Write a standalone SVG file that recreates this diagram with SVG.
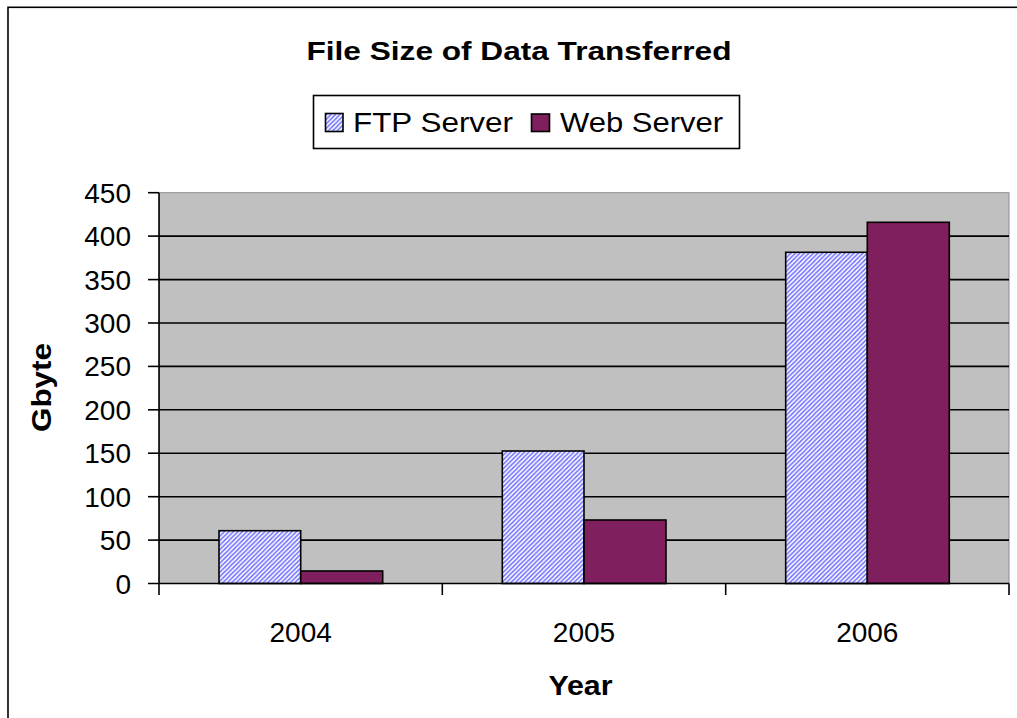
<svg xmlns="http://www.w3.org/2000/svg" width="1017" height="718" viewBox="0 0 1017 718">
<defs>
<pattern id="hatch" patternUnits="userSpaceOnUse" width="4.5" height="4.5">
<rect width="4.5" height="4.5" fill="#ffffff"/>
<path d="M0,4.5 L4.5,0 M-1,1 L1,-1 M3.5,5.5 L5.5,3.5" stroke="#6e6eff" stroke-width="1.5"/>
</pattern>
<style>
.t{font-family:"Liberation Sans",Arial,sans-serif;fill:#000}
.b{font-weight:bold}
.num{font-size:28px;text-anchor:end}
.cat{font-size:28px;text-anchor:middle}
.grid{stroke:#000;stroke-width:1.6}
.tick{stroke:#000;stroke-width:1.6}
.ftp{fill:url(#hatch);stroke:#000;stroke-width:1.6}
.web{fill:#7f1f5e;stroke:#000;stroke-width:1.6}
</style>
</defs>
<rect x="0" y="0" width="1017" height="718" fill="#fff"/>
<rect id="frame" x="8" y="7.3" width="1030" height="730" fill="#fff" stroke="#000" stroke-width="1.6"/>
<g id="title"><text class="t b" x="519" y="59.5" font-size="26" text-anchor="middle" textLength="425" lengthAdjust="spacingAndGlyphs">File Size of Data Transferred</text></g>
<g id="legend">
<rect x="313.5" y="95.5" width="426" height="53" fill="#fff" stroke="#000" stroke-width="1.6"/>
<rect class="ftp" x="325.5" y="113.5" width="17.5" height="18"/>
<text class="t" x="353" y="132.3" font-size="28" textLength="160" lengthAdjust="spacingAndGlyphs">FTP Server</text>
<rect class="web" x="531.5" y="114" width="18" height="17.5"/>
<text class="t" x="560" y="132.3" font-size="28" textLength="163" lengthAdjust="spacingAndGlyphs">Web Server</text>
</g>
<g id="plot">
<rect x="159.5" y="192.7" width="849.5" height="390.8" fill="#c0c0c0" stroke="#8c8c8c" stroke-width="1"/>
<g id="gridlines">
<line class="grid" x1="159" y1="540.1" x2="1009" y2="540.1"/>
<line class="grid" x1="159" y1="496.7" x2="1009" y2="496.7"/>
<line class="grid" x1="159" y1="453.2" x2="1009" y2="453.2"/>
<line class="grid" x1="159" y1="409.8" x2="1009" y2="409.8"/>
<line class="grid" x1="159" y1="366.4" x2="1009" y2="366.4"/>
<line class="grid" x1="159" y1="323.0" x2="1009" y2="323.0"/>
<line class="grid" x1="159" y1="279.6" x2="1009" y2="279.6"/>
<line class="grid" x1="159" y1="236.1" x2="1009" y2="236.1"/>
</g>
</g>
<g id="bars">
<g id="bar-2004-ftp"><rect class="ftp" x="219" y="530.7" width="81.7" height="52.8"/></g>
<g id="bar-2004-web"><rect class="web" x="300.7" y="571" width="82" height="12.5"/></g>
<g id="bar-2005-ftp"><rect class="ftp" x="502.3" y="451" width="81.7" height="132.5"/></g>
<g id="bar-2005-web"><rect class="web" x="584" y="520" width="82" height="63.5"/></g>
<g id="bar-2006-ftp"><rect class="ftp" x="785.7" y="252.3" width="81.6" height="331.2"/></g>
<g id="bar-2006-web"><rect class="web" x="867.3" y="222.3" width="82" height="361.2"/></g>
</g>
<g id="axes">
<line class="tick" x1="159" y1="192.7" x2="159" y2="595"/>
<line class="tick" x1="148" y1="583.5" x2="1009" y2="583.5"/>
<line class="tick" x1="148" y1="540.1" x2="159" y2="540.1"/>
<line class="tick" x1="148" y1="496.7" x2="159" y2="496.7"/>
<line class="tick" x1="148" y1="453.2" x2="159" y2="453.2"/>
<line class="tick" x1="148" y1="409.8" x2="159" y2="409.8"/>
<line class="tick" x1="148" y1="366.4" x2="159" y2="366.4"/>
<line class="tick" x1="148" y1="323.0" x2="159" y2="323.0"/>
<line class="tick" x1="148" y1="279.6" x2="159" y2="279.6"/>
<line class="tick" x1="148" y1="236.1" x2="159" y2="236.1"/>
<line class="tick" x1="148" y1="192.7" x2="159" y2="192.7"/>
<line class="tick" x1="442.3" y1="583.5" x2="442.3" y2="595"/>
<line class="tick" x1="725.7" y1="583.5" x2="725.7" y2="595"/>
<line class="tick" x1="1009" y1="583.5" x2="1009" y2="595"/>
</g>
<g id="y-labels">
<text class="t num" x="131" y="593.5">0</text>
<text class="t num" x="131" y="550.1">50</text>
<text class="t num" x="131" y="506.7">100</text>
<text class="t num" x="131" y="463.2">150</text>
<text class="t num" x="131" y="419.8">200</text>
<text class="t num" x="131" y="376.4">250</text>
<text class="t num" x="131" y="333.0">300</text>
<text class="t num" x="131" y="289.6">350</text>
<text class="t num" x="131" y="246.1">400</text>
<text class="t num" x="131" y="202.7">450</text>
</g>
<g id="x-labels">
<text class="t cat" x="300.7" y="641.5">2004</text>
<text class="t cat" x="584" y="641.5">2005</text>
<text class="t cat" x="867.3" y="641.5">2006</text>
</g>
<g id="axis-titles">
<text class="t b" x="580.5" y="695" font-size="28" text-anchor="middle" textLength="64" lengthAdjust="spacingAndGlyphs">Year</text>
<text class="t b" transform="translate(50.5,387.5) rotate(-90)" x="0" y="0" font-size="28" text-anchor="middle" textLength="89" lengthAdjust="spacingAndGlyphs">Gbyte</text>
</g>
</svg>
